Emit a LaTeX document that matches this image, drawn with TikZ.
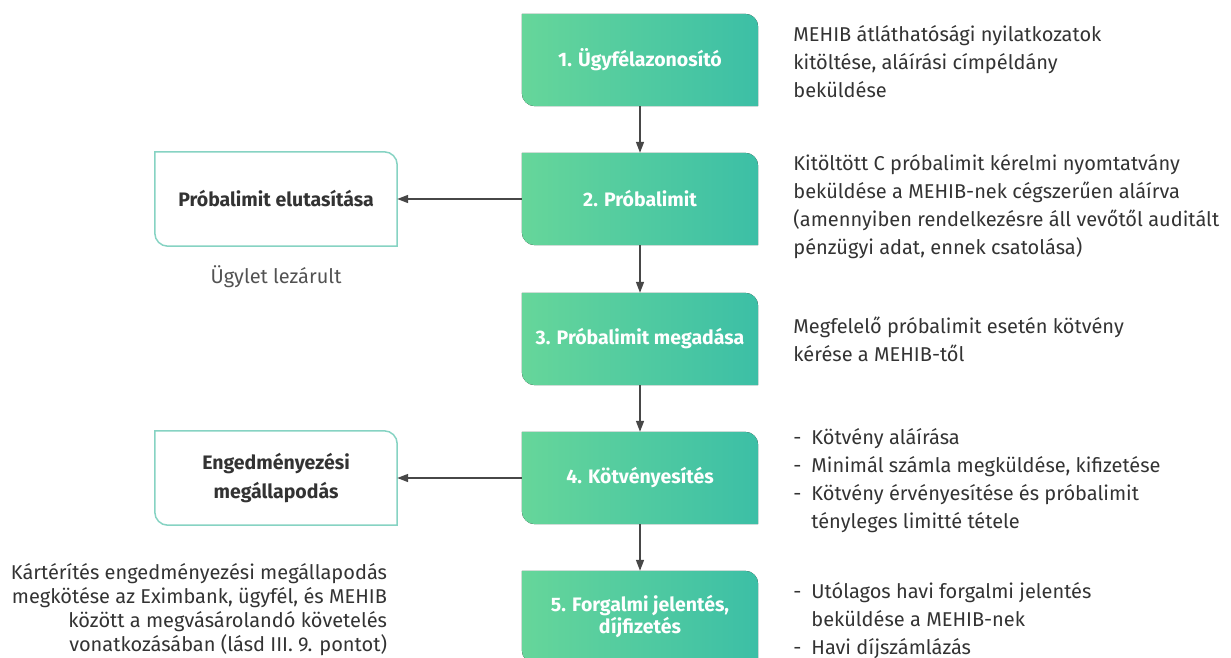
\documentclass[tikz,border=0pt]{standalone}
\usepackage{fontspec}
\setmainfont{Fira Sans}
\usetikzlibrary{arrows.meta,positioning,backgrounds}
\definecolor{greenL}{HTML}{66D69A}
\definecolor{greenR}{HTML}{3CBFA6}
\definecolor{edgeteal}{HTML}{86D3C3}
\definecolor{arrowgray}{HTML}{474747}
\definecolor{textgray}{HTML}{333333}

\begin{document}
\begin{tikzpicture}[x=1pt,y=1pt,
  stage/.style={minimum width=236pt,minimum height=92pt,inner sep=4pt,text=white,align=center,font=\bfseries\fontsize{19.5}{22}\selectfont},
  sidebox/.style={minimum width=242pt,minimum height=94pt,inner sep=4pt,text=textgray,align=center,font=\bfseries\fontsize{19.5}{29}\selectfont},
  note/.style={inner sep=0pt,text=textgray,align=left,font=\fontsize{20}{28}\selectfont},
  flow/.style={draw=arrowgray,line width=1.5pt,-{Triangle[length=11pt,width=8pt]}}]
\def\xStage{640}
\def\xSide{276}
\def\rr{13pt}
\def\dash{\makebox[18pt][l]{-}}
\useasboundingbox (0,0) rectangle (1231,-658);

\path
(\xStage,-60) node [stage] (s1) {1. Ügyfélazonosító}
(\xStage,-199) node [stage] (s2) {2. Próbalimit}
(\xStage,-339) node [stage] (s3) {3. Próbalimit megadása}
(\xStage,-478) node [stage] (s4) {4. Kötvényesítés}
(\xStage,-617) node [stage] (s5) {5. Forgalmi jelentés,\\díjfizetés}
(\xSide,-199) node [sidebox] (reject) {Próbalimit elutasítása}
(\xSide,-478) node [sidebox] (assign) {Engedményezési\\megállapodás}
;

% green boxes, two corners rounded
\begin{scope}[on background layer]
\foreach \n in {s1,s2,s3,s4,s5}
  \fill[left color=greenL,right color=greenR] (\n.north west) -- ([xshift=-\rr]\n.north east)
    arc[start angle=90,end angle=0,radius=\rr] -- (\n.south east) -- ([xshift=\rr]\n.south west)
    arc[start angle=270,end angle=180,radius=\rr] -- cycle;
\foreach \n in {reject,assign}
  \draw[edgeteal,line width=1.5pt,fill=white] (\n.north west) -- ([xshift=-\rr]\n.north east)
    arc[start angle=90,end angle=0,radius=\rr] -- (\n.south east) -- ([xshift=\rr]\n.south west)
    arc[start angle=270,end angle=180,radius=\rr] -- cycle;
\end{scope}

% notes on the right
\node[note,right=35pt of s1,yshift=-2pt] (n1) {MEHIB átláthatósági nyilatkozatok\\kitöltése, aláírási címpéldány\\beküldése};
\node[note,right=35pt of s2,yshift=-8pt] (n2) {Kitöltött C próbalimit kérelmi nyomtatvány\\beküldése a MEHIB-nek cégszerűen aláírva\\(amennyiben rendelkezésre áll vevőtől auditált\\pénzügyi adat, ennek csatolása)};
\node[note,right=35pt of s3] (n3) {Megfelelő próbalimit esetén kötvény\\kérése a MEHIB-től};
\node[note,right=35pt of s4,yshift=-3pt] (n4) {\dash Kötvény aláírása\\\dash Minimál számla megküldése, kifizetése\\\dash Kötvény érvényesítése és próbalimit\\\hspace*{18pt}tényleges limitté tétele};
\node[note,right=35pt of s5,yshift=-4pt] (n5) {\dash Utólagos havi forgalmi jelentés\\\hspace*{18pt}beküldése a MEHIB-nek\\\dash Havi díjszámlázás};

% notes on the left
\node[note,text=textgray!85,below=19pt of reject] (closed) {Ügylet lezárult};
\node[note,align=right,font=\fontsize{20}{24}\selectfont,below=38pt of assign.south east,anchor=north east,xshift=-10pt] (claim) {Kártérítés engedményezési megállapodás\\megkötése az Eximbank, ügyfél, és MEHIB\\között a megvásárolandó követelés\\vonatkozásában (lásd III. 9. pontot)};

\draw[flow] (s1) -- (s2);
\draw[flow] (s2) -- (s3);
\draw[flow] (s3) -- (s4);
\draw[flow] (s4) -- (s5);
\draw[flow] (s2) -- (reject);
\draw[flow] (s4) -- (assign);

\end{tikzpicture}
\end{document}
